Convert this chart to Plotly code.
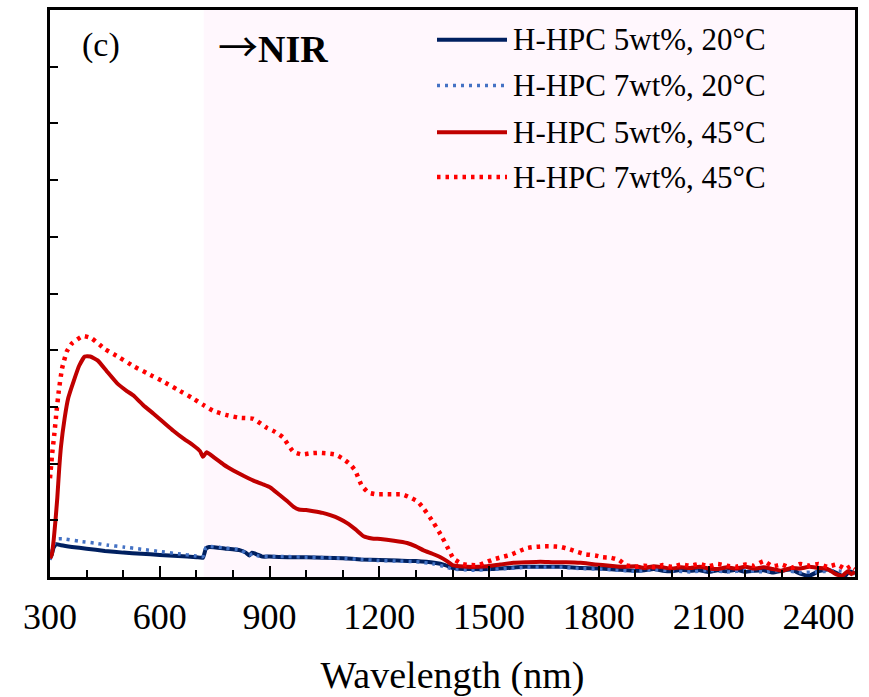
import plotly.graph_objects as go

# ---------------- data ----------------
wl_5_20 = [300, 305, 310, 318, 330, 360, 400, 450, 500, 550, 600, 650, 700, 718, 726, 735, 780, 820, 835, 845, 852, 865, 880, 900,
           950, 1000, 1050, 1100, 1150, 1200, 1250, 1300, 1350, 1380, 1400, 1450, 1500, 1550, 1600, 1650, 1700, 1750, 1800, 1850,
           1900, 1925, 1950, 1975, 2000, 2025, 2050, 2075, 2100, 2125, 2150, 2175, 2200, 2225, 2250, 2275, 2300, 2325, 2350, 2375,
           2400, 2425, 2450, 2470, 2485, 2500]
r_5_20 = [3.3, 4.0, 5.2, 5.8, 5.6, 5.3, 5.0, 4.6, 4.3, 4.1, 3.9, 3.7, 3.5, 3.4, 5.0, 5.3, 5.0, 4.7, 4.3, 3.8, 4.3, 4.0, 3.6, 3.6,
          3.5, 3.5, 3.4, 3.3, 3.1, 3.0, 2.9, 2.8, 2.5, 2.1, 1.6, 1.4, 1.4, 1.6, 1.8, 1.8, 1.8, 1.6, 1.5, 1.3,
          1.1, 1.2, 1.4, 1.1, 1.0, 1.3, 1.1, 1.2, 0.9, 1.2, 1.0, 1.3, 0.9, 1.1, 1.2, 0.8, 1.1, 1.3, 0.6, 0.2,
          1.0, 1.3, 0.7, 0.0, 1.0, 0.6]

wl_7_20 = [300, 305, 312, 320, 340, 380, 420, 460, 500, 550, 600, 650, 700, 718, 726, 735, 780, 820, 835, 845, 855, 870, 900,
           950, 1000, 1050, 1100, 1150, 1200, 1250, 1300, 1350, 1380, 1400, 1450, 1500, 1550, 1600, 1650, 1700, 1750, 1800, 1850,
           1900, 1950, 2000, 2050, 2100, 2150, 2200, 2250, 2300, 2350, 2400, 2450, 2500]
r_7_20 = [3.0, 4.5, 6.0, 6.7, 6.7, 6.3, 6.0, 5.6, 5.3, 4.9, 4.5, 4.1, 3.7, 3.6, 5.2, 5.4, 5.1, 4.8, 4.2, 3.9, 4.1, 3.7, 3.6,
          3.6, 3.5, 3.4, 3.3, 3.1, 2.9, 2.8, 2.7, 2.3, 1.8, 1.4, 1.2, 1.3, 1.5, 1.7, 1.7, 1.7, 1.5, 1.4, 1.2,
          1.0, 1.3, 1.1, 0.9, 1.2, 0.9, 1.1, 0.9, 1.2, 0.8, 0.9, 1.1, 0.8]

wl_5_45 = [300, 305, 310, 315, 320, 325, 330, 340, 350, 365, 380, 395, 410, 430, 455, 483, 510, 528, 555, 583, 610, 637, 665,
           692, 710, 718, 728, 750, 775, 801, 830, 856, 880, 902, 925, 948, 965, 980, 1000, 1020, 1045, 1066, 1090, 1112, 1135,
           1157, 1180, 1203, 1240, 1276, 1300, 1321, 1345, 1367, 1385, 1400, 1420, 1440, 1470, 1495, 1530, 1567, 1600, 1640,
           1676, 1710, 1750, 1790, 1830, 1870, 1900, 1925, 1950, 1975, 2000, 2025, 2050, 2075, 2100, 2125, 2150, 2175, 2200,
           2225, 2250, 2275, 2300, 2325, 2350, 2375, 2400, 2425, 2445, 2465, 2480, 2490, 2500]
r_5_45 = [3.3, 4.0, 6.5, 10.0, 14.0, 19.0, 23.0, 28.0, 31.6, 34.6, 37.3, 38.9, 38.9, 38.2, 36.3, 34.2, 32.8, 32.0, 30.3, 28.8,
          27.3, 25.8, 24.4, 23.2, 22.2, 21.2, 22.0, 21.0, 19.8, 18.8, 17.8, 17.0, 16.4, 15.8, 14.6, 13.4, 12.4, 11.9, 11.8,
          11.6, 11.3, 10.9, 10.3, 9.5, 8.4, 7.2, 6.8, 6.7, 6.4, 6.0, 5.4, 4.7, 4.1, 3.5, 2.8, 2.1, 1.9, 1.8, 1.8, 1.9, 2.2,
          2.5, 2.6, 2.7, 2.6, 2.6, 2.5, 2.2, 2.0, 1.8, 1.9, 1.6, 1.9, 1.7, 1.5, 1.7, 1.6, 1.8, 1.5, 1.4, 1.7, 1.5, 1.8,
          1.5, 1.7, 1.4, 1.1, 1.6, 1.5, 1.8, 1.6, 1.4, 0.6, 0.2, 1.0, 0.5, 0.9]

wl_7_45 = [300, 306, 312, 318, 324, 333, 346, 360, 390, 414, 450, 490, 528, 566, 606, 647, 688, 720, 746, 780, 815, 856, 893,
           915, 937, 965, 989, 1010, 1034, 1058, 1080, 1102, 1120, 1134, 1152, 1170, 1190, 1216, 1240, 1262, 1285, 1305, 1321,
           1348, 1372, 1393, 1403, 1427, 1450, 1471, 1495, 1517, 1540, 1558, 1580, 1604, 1625, 1649, 1672, 1695, 1720, 1742,
           1764, 1790, 1810, 1833, 1855, 1873, 1900, 1925, 1950, 1975, 2000, 2025, 2050, 2075, 2100, 2125, 2150, 2175, 2200,
           2225, 2250, 2275, 2300, 2325, 2350, 2375, 2400, 2425, 2450, 2475, 2490, 2500]
r_7_45 = [17.4, 21.8, 25.3, 29.3, 32.8, 36.8, 39.8, 41.2, 42.5, 42.1, 40.2, 38.7, 37.2, 35.9, 34.6, 33.1, 31.6, 30.3, 29.3,
          28.6, 28.1, 27.9, 26.3, 25.6, 24.6, 22.1, 21.6, 21.8, 21.9, 21.8, 21.6, 20.8, 19.9, 18.8, 16.1, 14.9, 14.6, 14.6,
          14.6, 14.6, 14.0, 13.3, 12.1, 9.6, 7.0, 4.4, 3.2, 2.3, 2.1, 2.1, 2.7, 3.2, 3.6, 3.9, 4.5, 5.1, 5.3, 5.4, 5.4, 5.3,
          4.9, 4.4, 4.0, 3.8, 3.5, 3.4, 3.0, 2.1, 1.8, 2.0, 1.7, 2.1, 1.8, 2.2, 2.0, 2.3, 1.9, 2.3, 2.0, 1.8, 2.2, 2.0, 2.8,
          1.9, 2.2, 1.6, 2.3, 2.0, 2.3, 1.8, 2.2, 1.4, 2.0, 1.5]

series_names = ["H-HPC 5wt%, 20\u00b0C", "H-HPC 7wt%, 20\u00b0C", "H-HPC 5wt%, 45\u00b0C", "H-HPC 7wt%, 45\u00b0C"]
x_ticks = [300, 600, 900, 1200, 1500, 1800, 2100, 2400]
nir_start = 720

# ---------------- styling ----------------
FONT = "Liberation Serif"
colors = ["#002060", "#4472C4", "#C00000", "#FF0000"]
widths = [4, 3.5, 4, 4.5]
dashes = ["solid", "3px,5px", "solid", "3.5px,5px"]

L, R, T, B = 50, 14, 7, 120
W, H = 869, 697
PW, PH = W - L - R, H - T - B


def px(xp):
    return (xp - L) / PW


def py(yp):
    return (H - B - yp) / PH


fig = go.Figure()
data = [(wl_5_20, r_5_20), (wl_7_20, r_7_20), (wl_5_45, r_5_45), (wl_7_45, r_7_45)]
for (xs, ys), name, c, w, d in zip(data, series_names, colors, widths, dashes):
    fig.add_trace(go.Scatter(x=xs, y=ys, mode="lines", name=name,
                             line=dict(color=c, width=w, dash=d, shape="spline", smoothing=0.4),
                             showlegend=False))

# NIR shading
fig.add_shape(type="rect", xref="x", yref="paper", x0=nir_start, x1=2500, y0=0, y1=1,
              fillcolor="#FFF7FD", line=dict(width=0), layer="below")

# manual legend
legend_y = [37, 83, 130, 175]
for name, c, w, d, ly in zip(series_names, colors, widths, dashes, legend_y):
    fig.add_shape(type="line", xref="paper", yref="paper", x0=px(437), x1=px(507), y0=py(ly), y1=py(ly),
                  line=dict(color=c, width=w, dash=d))
    fig.add_annotation(xref="paper", yref="paper", x=px(511), y=py(ly), text=name, showarrow=False,
                       xanchor="left", yanchor="middle", font=dict(family=FONT, size=31, color="black"))

fig.add_annotation(xref="paper", yref="paper", x=px(80), y=py(42), text="(c)", showarrow=False,
                   xanchor="left", yanchor="middle", font=dict(family=FONT, size=34, color="black"))
fig.add_annotation(xref="paper", yref="paper", x=px(216), y=py(42),
                   text="<span style=\"font-family:'Noto Sans CJK JP';font-size:40px\">\u2192</span><b>NIR</b>",
                   showarrow=False, xanchor="left", yanchor="middle",
                   font=dict(family=FONT, size=38, color="black"))

fig.update_layout(
    width=W, height=H,
    margin=dict(l=L, r=R, t=T, b=B),
    paper_bgcolor="white", plot_bgcolor="white",
    font=dict(family=FONT, color="black"),
)
fig.update_xaxes(range=[300, 2500], tickvals=x_ticks, ticks="inside", ticklen=11, tickwidth=2, tickcolor="black",
                 showline=True, linewidth=2.5, linecolor="black", mirror=True, showgrid=False, zeroline=False,
                 tickfont=dict(family=FONT, size=36), ticklabelstandoff=6,
                 minor=dict(dtick=100, tick0=300, ticks="inside", ticklen=7, tickwidth=1.5, tickcolor="black", showgrid=False),
                 title=dict(text="Wavelength (nm)", font=dict(family=FONT, size=38), standoff=26))
fig.update_yaxes(range=[0, 100], dtick=10, ticks="inside", ticklen=8, tickwidth=2, tickcolor="black",
                 showticklabels=False, showline=True, linewidth=2.5, linecolor="black", mirror=True,
                 showgrid=False, zeroline=False)

fig.write_html("out.html", config={"displayModeBar": False},
               post_script="document.body.style.margin='0px';document.body.style.padding='0px';")
